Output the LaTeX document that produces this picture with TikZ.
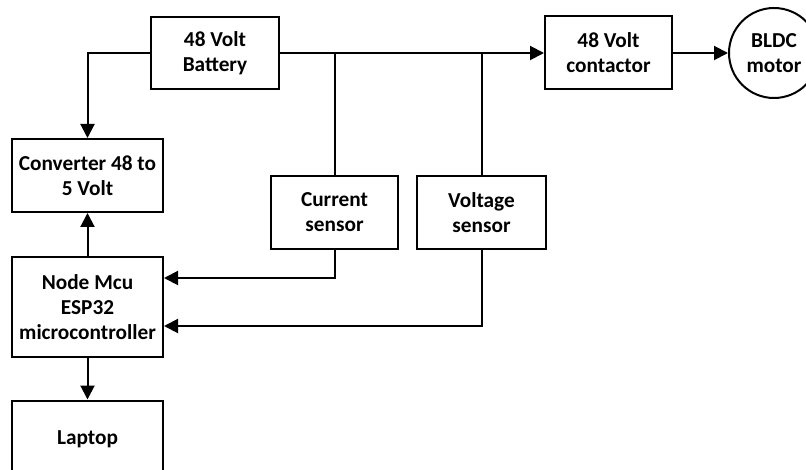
\documentclass[tikz,border=0pt]{standalone}
\usepackage{fontspec}
\setmainfont{Carlito}
\usetikzlibrary{arrows.meta}
\begin{document}
\begin{tikzpicture}[x=1pt,y=-1pt,
  every node/.style={font=\fontsize{21.3}{25}\selectfont\bfseries, align=center},
  blk/.style={draw, line width=2pt, rectangle, inner sep=0pt},
  conn/.style={line width=2pt},
  arr/.style={conn, -{Triangle[length=14pt,width=14pt]}}]
\useasboundingbox (0,0) rectangle (806,470);
\clip (0,0) rectangle (806,470);
\node[blk, minimum width=128pt, minimum height=72pt] (bat) at (215,53) {48 Volt\\Battery};
\node[blk, minimum width=151pt, minimum height=73pt] (conv) at (87.5,175.5) {Converter 48 to\\5 Volt};
\node[blk, minimum width=151pt, minimum height=100pt] (mcu) at (87.5,307) {Node Mcu\\ESP32\\microcontroller};
\node[blk, minimum width=151pt, minimum height=77pt] (lap) at (87.5,439) {Laptop};
\node[blk, minimum width=127pt, minimum height=73pt] (cur) at (334.5,212.5) {Current\\sensor};
\node[blk, minimum width=129pt, minimum height=73pt] (volt) at (481.5,212.5) {Voltage\\sensor};
\node[blk, minimum width=127pt, minimum height=73pt] (con) at (608.5,53) {48 Volt\\contactor};
\node[draw, line width=2pt, circle, minimum size=90pt, inner sep=0pt] (mot) at (774,53) {BLDC\\motor};
\draw[arr] (bat.east) -- (bat.east -| con.west);
\draw[conn] (cur.north) -- (cur.north |- bat.east);
\draw[conn] (volt.north) -- (volt.north |- bat.east);
\draw[arr] (bat.west) -| (conv.north);
\draw[arr] (mcu.north) -- (conv.south);
\draw[arr] (mcu.south) -- (lap.north);
\draw[arr] (cur.south) |- ([yshift=29pt]mcu.east);
\draw[arr] (volt.south) |- ([yshift=-19pt]mcu.east);
\draw[arr] (con.east) -- (mot.west);
\end{tikzpicture}
\end{document}
